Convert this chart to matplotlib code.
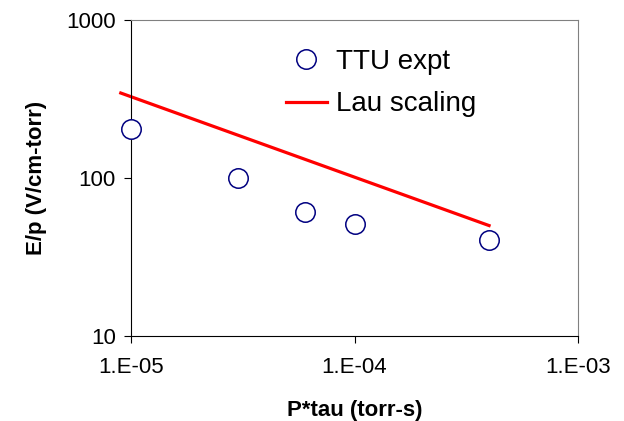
import matplotlib
matplotlib.use("Agg")
import matplotlib.pyplot as plt
from matplotlib.ticker import FixedLocator, FixedFormatter, NullLocator

plt.rcParams['font.family'] = ['Liberation Sans', 'DejaVu Sans']

# data
ttu_x = [1.0e-5, 3.0e-5, 6.0e-5, 1.0e-4, 4.0e-4]
ttu_y = [203, 100, 61, 51, 40.5]
lau_x = [9.0e-6, 4.0e-4]
lau_y = [345, 50]
xticks = [1e-5, 1e-4, 1e-3]
xticklabels = ["1.E-05", "1.E-04", "1.E-03"]
yticks = [10, 100, 1000]
yticklabels = ["10", "100", "1000"]

fig = plt.figure(figsize=(6.24, 4.21), dpi=100)
ax = fig.add_axes([131/624, 1-336/421, (578-131)/624, (336-20)/421])
ax.set_xscale('log')
ax.set_yscale('log')
ax.set_xlim(1e-5, 1e-3)
ax.set_ylim(10, 1000)

ax.plot(ttu_x, ttu_y, linestyle='none', marker='o', markersize=14,
        markerfacecolor='white', markeredgecolor='#000080', markeredgewidth=1.1,
        label='TTU expt', clip_on=False, zorder=3)
ax.plot(lau_x, lau_y, color='#ff0000', linewidth=2.3, label='Lau scaling',
        clip_on=False, zorder=2)

ax.xaxis.set_major_locator(FixedLocator(xticks))
ax.xaxis.set_major_formatter(FixedFormatter(xticklabels))
ax.xaxis.set_minor_locator(NullLocator())
ax.yaxis.set_major_locator(FixedLocator(yticks))
ax.yaxis.set_major_formatter(FixedFormatter(yticklabels))
ax.yaxis.set_minor_locator(NullLocator())
ax.tick_params(axis='both', direction='out', length=5, width=0.8, labelsize=16, pad=6)
ax.tick_params(axis='x', pad=10)

for s in ['top', 'right']:
    ax.spines[s].set_color('#808080')
for s in ['left', 'bottom']:
    ax.spines[s].set_color('black')

ax.set_xlabel('P*tau (torr-s)', fontsize=16, fontweight='bold', labelpad=16)
ax.set_ylabel('E/p (V/cm-torr)', fontsize=16, fontweight='bold', labelpad=14)

leg = ax.legend(loc='upper left', bbox_to_anchor=(0.321, 0.944), frameon=False,
                fontsize=20, handlelength=1.5, handletextpad=0.3, labelspacing=0.6,
                borderaxespad=0)

fig.savefig('out.png', dpi=100)
